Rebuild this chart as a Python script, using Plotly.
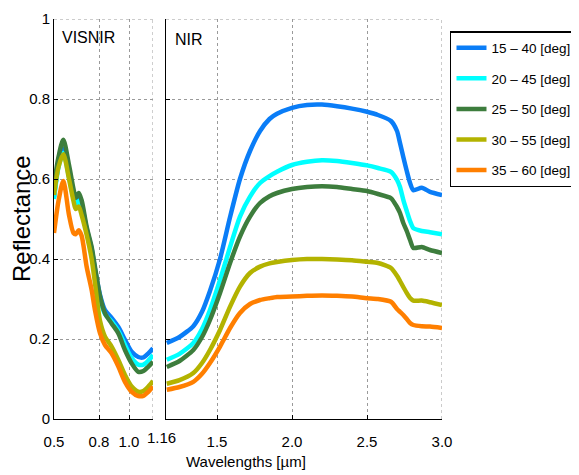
import plotly.graph_objects as go

# ---------------- data ----------------
series_names = ["15 – 40 [deg]", "20 – 45 [deg]", "25 – 50 [deg]", "30 – 55 [deg]", "35 – 60 [deg]"]
series_colors = ["#0a7df7", "#00ffff", "#3d7d3d", "#b3b300", "#ff7f00"]

visnir_wl = [0.50, 0.53, 0.562, 0.60, 0.63, 0.645, 0.665, 0.684, 0.718, 0.751, 0.773,
             0.807, 0.84, 0.884, 0.929, 0.973, 1.018, 1.062, 1.096, 1.129, 1.16]
visnir_15_40 = [0.555, 0.635, 0.675, 0.615, 0.56, 0.54, 0.55, 0.535, 0.475, 0.425, 0.375,
                0.31, 0.272, 0.253, 0.23, 0.198, 0.168, 0.155, 0.154, 0.164, 0.177]
visnir_20_45 = [0.55, 0.63, 0.665, 0.605, 0.552, 0.533, 0.545, 0.53, 0.47, 0.42, 0.37,
                0.30, 0.262, 0.244, 0.22, 0.185, 0.152, 0.136, 0.136, 0.146, 0.16]
visnir_25_50 = [0.585, 0.655, 0.698, 0.635, 0.575, 0.553, 0.565, 0.547, 0.48, 0.43, 0.38,
                0.306, 0.264, 0.239, 0.214, 0.1725, 0.139, 0.118, 0.12, 0.131, 0.143]
visnir_30_55 = [0.56, 0.63, 0.662, 0.60, 0.545, 0.525, 0.531, 0.51, 0.46, 0.40, 0.34,
                0.245, 0.206, 0.181, 0.1475, 0.11, 0.081, 0.068, 0.07, 0.081, 0.095]
visnir_35_60 = [0.465, 0.545, 0.595, 0.51, 0.465, 0.462, 0.472, 0.458, 0.38, 0.3225, 0.2725,
                0.214, 0.185, 0.164, 0.131, 0.093, 0.068, 0.0575, 0.058, 0.068, 0.081]

nir_wl = [1.165, 1.25, 1.342, 1.40, 1.453, 1.52, 1.587, 1.653, 1.72, 1.787, 1.85, 1.9, 2.0,
          2.1, 2.2, 2.3, 2.4, 2.5, 2.573, 2.66, 2.70, 2.72, 2.742, 2.765, 2.787, 2.809,
          2.865, 2.92, 3.0]
nir_15_40 = [0.19, 0.205, 0.232, 0.268, 0.32, 0.40, 0.505, 0.60, 0.67, 0.72, 0.75, 0.763, 0.778,
             0.785, 0.786, 0.782, 0.776, 0.768, 0.76, 0.745, 0.72, 0.69, 0.655, 0.62, 0.59, 0.572,
             0.578, 0.568, 0.56]
nir_20_45 = [0.148, 0.163, 0.19, 0.225, 0.2725, 0.3475, 0.43, 0.506, 0.556, 0.59, 0.607, 0.618, 0.635,
             0.643, 0.647, 0.645, 0.64, 0.634, 0.6275, 0.618, 0.598, 0.58, 0.548, 0.52, 0.495, 0.477,
             0.47, 0.467, 0.462]
nir_25_50 = [0.13, 0.145, 0.1725, 0.205, 0.2475, 0.315, 0.39, 0.456, 0.506, 0.54, 0.557, 0.565, 0.575,
             0.58, 0.582, 0.58, 0.575, 0.57, 0.5625, 0.552, 0.53, 0.515, 0.49, 0.47, 0.4475, 0.4275,
             0.43, 0.4225, 0.415]
nir_30_55 = [0.088, 0.097, 0.115, 0.14, 0.1725, 0.2225, 0.281, 0.331, 0.365, 0.381, 0.389, 0.3925, 0.3975,
             0.40, 0.40, 0.399, 0.397, 0.393, 0.39, 0.3775, 0.358, 0.345, 0.33, 0.315, 0.3025, 0.296,
             0.296, 0.292, 0.285]
nir_35_60 = [0.073, 0.08, 0.093, 0.113, 0.14, 0.181, 0.2275, 0.265, 0.2875, 0.2975, 0.302, 0.305, 0.306,
             0.308, 0.309, 0.308, 0.306, 0.302, 0.30, 0.293, 0.275, 0.268, 0.26, 0.25, 0.24, 0.235,
             0.232, 0.231, 0.2275]

visnir_series = [visnir_15_40, visnir_20_45, visnir_25_50, visnir_30_55, visnir_35_60]
nir_series = [nir_15_40, nir_20_45, nir_25_50, nir_30_55, nir_35_60]

x1_ticks = [0.5, 0.8, 1.0, 1.16]
x1_ticktext = ["0.5", "0.8", "1.0", ""]
x2_ticks = [1.16, 1.5, 2.0, 2.5, 3.0]
x2_ticktext = ["", "1.5", "2.0", "2.5", "3.0"]
shared_label = "1.16"
y_ticks = [0, 0.2, 0.4, 0.6, 0.8, 1.0]
y_ticktext = ["0", "0.2", "0.4", "0.6", "0.8", "1"]

# ---------------- figure ----------------
FONT = "Liberation Sans, Arial, sans-serif"
GRID = "#9a9a9a"
fig = go.Figure()

# NIR first (these carry the legend), then VISNIR
for name, col, ys in zip(series_names, series_colors, nir_series):
    fig.add_trace(go.Scatter(x=nir_wl, y=ys, mode="lines", name=name, showlegend=True,
                             line=dict(color=col, width=4.5, shape="spline", smoothing=0.6),
                             xaxis="x2", yaxis="y2", legendgroup=name))
for name, col, ys in zip(series_names, series_colors, visnir_series):
    fig.add_trace(go.Scatter(x=visnir_wl, y=ys, mode="lines", name=name, showlegend=False,
                             line=dict(color=col, width=4.5, shape="spline", smoothing=0.8),
                             xaxis="x", yaxis="y", legendgroup=name))

axis_common = dict(showline=True, linecolor="black", linewidth=1, ticks="inside", ticklen=4,
                   tickcolor="black", showgrid=True, gridcolor=GRID, griddash="dot",
                   gridwidth=1, zeroline=False, mirror=False, tickangle=0,
                   tickfont=dict(family=FONT, size=15, color="black"))

# page body has an 8px default margin: figure is sized/margined to compensate
fig.update_layout(
    width=571, height=467,
    margin=dict(l=46, r=137, t=11, b=56, autoexpand=False),
    paper_bgcolor="white", plot_bgcolor="white",
    font=dict(family=FONT, size=15, color="black"),
    xaxis=dict(domain=[0, 0.2552], range=[0.5, 1.16], tickvals=x1_ticks, ticktext=x1_ticktext,
               ticklabelstandoff=9, **axis_common),
    xaxis2=dict(domain=[0.2887, 1.0], range=[1.16, 3.0], tickvals=x2_ticks, ticktext=x2_ticktext,
                anchor="y2", ticklabelstandoff=9, **axis_common),
    yaxis=dict(range=[0, 1], tickvals=y_ticks, ticktext=y_ticktext, anchor="x", **axis_common),
    yaxis2=dict(range=[0, 1], tickvals=y_ticks, ticktext=y_ticktext, anchor="x2",
                showticklabels=False, **axis_common),
    legend=dict(x=1.0206, y=0.97, xanchor="left", yanchor="top", bgcolor="white",
                bordercolor="black", borderwidth=1.5, tracegroupgap=10,
                font=dict(family=FONT, size=13.5, color="black")),
    showlegend=True,
)

# dotted grid lines lying on the plot edges (plotly drops edge gridlines)
edge_grid = dict(type="line", line=dict(color=GRID, width=1, dash="dot"), layer="below")
fig.add_shape(xref="x domain", yref="y", x0=0, x1=1, y0=y_ticks[-1], y1=y_ticks[-1], **edge_grid)
fig.add_shape(xref="x2 domain", yref="y2", x0=0, x1=1, y0=y_ticks[-1], y1=y_ticks[-1], **edge_grid)
fig.add_shape(xref="x", yref="y domain", x0=x1_ticks[-1], x1=x1_ticks[-1], y0=0, y1=1, **edge_grid)
fig.add_shape(xref="x2", yref="y2 domain", x0=x2_ticks[-1], x1=x2_ticks[-1], y0=0, y1=1, **edge_grid)

fig.add_annotation(text="Reflectance", xref="paper", yref="paper", x=-0.085, y=0.5,
                   textangle=-90, showarrow=False, xanchor="center", yanchor="middle",
                   font=dict(family=FONT, size=24, color="black"))
fig.add_annotation(text="Wavelengths [µm]", xref="paper", yref="paper", x=0.4936, y=-0.105,
                   showarrow=False, xanchor="center", yanchor="middle",
                   font=dict(family=FONT, size=15, color="black"))
fig.add_annotation(text=shared_label, xref="paper", yref="paper", x=0.2758, y=-0.045,
                   showarrow=False, xanchor="center", yanchor="middle",
                   font=dict(family=FONT, size=15, color="black"))
fig.add_annotation(text="VISNIR", xref="x", yref="paper", x=0.54, y=0.955,
                   showarrow=False, xanchor="left", yanchor="middle",
                   font=dict(family=FONT, size=16, color="black"))
fig.add_annotation(text="NIR", xref="x2", yref="paper", x=1.207, y=0.95,
                   showarrow=False, xanchor="left", yanchor="middle",
                   font=dict(family=FONT, size=16, color="black"))

fig.write_html("out.html")
